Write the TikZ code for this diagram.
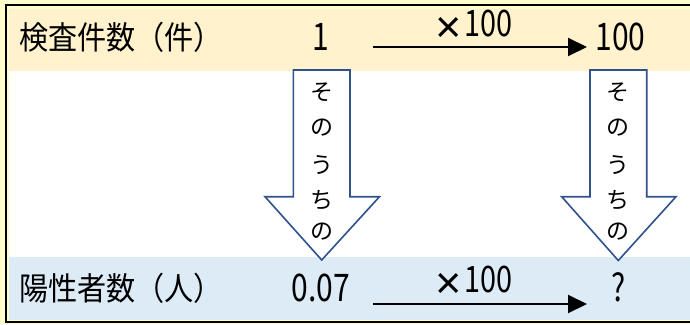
\documentclass[tikz,border=0pt]{standalone}
\usepackage{fontspec}
\usepackage{graphicx}
\setmainfont{Noto Sans CJK JP}
\newfontfamily\timesfont{Liberation Sans}
\usetikzlibrary{arrows.meta}
\definecolor{outerbg}{HTML}{FFFFCC}
\definecolor{topband}{HTML}{FFF2CC}
\definecolor{botband}{HTML}{DDEBF7}
\definecolor{arrowblue}{HTML}{2F528F}
\newcommand\narrowdigits[1]{\scalebox{0.79}[1]{#1}}
\newcommand\narrowlabel[1]{\scalebox{0.91}[1]{#1}}
\newcommand\timessign{\raisebox{-6pt}{\fontsize{45}{45}\selectfont\timesfont ×}\hspace{3pt}}
\tikzset{
  labeltext/.style={font=\fontsize{32}{36}\selectfont, inner sep=0pt, anchor=west},
  numtext/.style={font=\fontsize{38}{44}\selectfont, inner sep=0pt},
  multext/.style={font=\fontsize{36.5}{40}\selectfont, inner sep=0pt},
  vchar/.style={font=\fontsize{23}{26}\selectfont, inner sep=0pt},
  blockarrow/.style={draw=arrowblue, fill=white, line width=1.6pt, line join=miter},
  flowarrow/.style={line width=2pt, -{Triangle[length=19pt,width=18pt]}}
}
\begin{document}
\begin{tikzpicture}[x=1pt,y=-1pt]
\useasboundingbox (0,0) rectangle (690,324);
% backgrounds
\fill[outerbg] (0,0) rectangle (690,324);
\fill[white] (9,9) rectangle (690,320);
\fill[topband] (9,9) rectangle (690,71);
\fill[botband] (9,257) rectangle (690,320);
\draw[line width=2pt] (690,5) -- (6,5) -- (6,321.5) -- (690,321.5);

% row labels
\node[labeltext] (lab1) at (19,37.5) {\narrowlabel{検査件数（件）}};
\node[labeltext] (lab2) at (19,288) {\narrowlabel{陽性者数（人）}};

% numbers
\node[numtext] (n1) at (321,37) {\narrowdigits{1}};
\node[numtext] (n100) at (620.5,36.5) {\narrowdigits{100}};
\node[numtext] (n007) at (321,288) {\narrowdigits{0.07}};
\node[numtext] (nq) at (619,287) {\narrowdigits{?}};

% horizontal arrows
\coordinate (ta) at (373,47);
\coordinate (tb) at (587,47);
\coordinate (ba) at (373,304);
\coordinate (bb) at (587,304);
\draw[flowarrow] (ta) -- (tb);
\draw[flowarrow] (ba) -- (bb);
\node[multext, anchor=base] (m1) at (474,36.5) {\timessign\narrowdigits{100}};
\node[multext, anchor=base] (m2) at (474,292) {\timessign\narrowdigits{100}};

% block arrows
\draw[blockarrow] (293.3,70) -- (350,70) -- (350,196.7) -- (379.5,196.7)
  -- (321.7,260) -- (265,196.7) -- (293.3,196.7) -- cycle;
\draw[blockarrow] (590,70) -- (646.7,70) -- (646.7,196.7) -- (676,196.7)
  -- (618.3,260.5) -- (561.7,196.7) -- (590,196.7) -- cycle;

% vertical text
\foreach \c/\y [count=\i] in {そ/92, の/128, う/165, ち/200, の/232} {
  \node[vchar] (vl\i) at (321.7,\y) {\c};
  \node[vchar] (vr\i) at (618.3,\y) {\c};
}
\end{tikzpicture}
\end{document}
